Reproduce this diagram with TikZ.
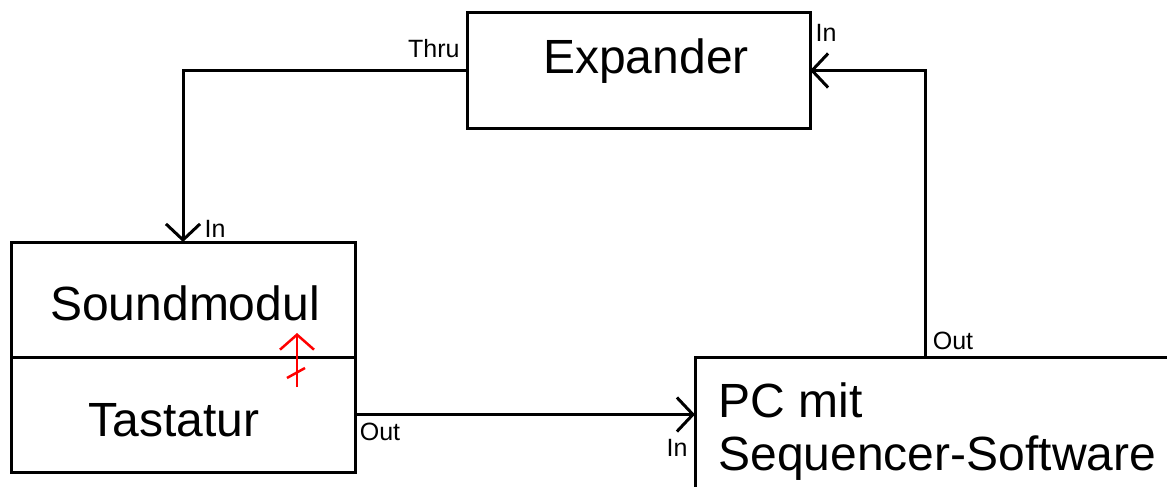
\documentclass[tikz,border=0pt]{standalone}
\usepackage{fontspec}
\setmainfont{Liberation Sans}
\usetikzlibrary{arrows.meta}

\begin{document}
\begin{tikzpicture}[x=1pt,y=-1pt,line width=3pt,
    box/.style={draw, outer sep=0pt, inner sep=0pt, anchor=north west},
    midi/.style={-{Straight Barb[length=16pt,width=34pt]}},
    big/.style={font=\fontsize{48}{53}\selectfont, inner sep=0pt},
    port/.style={font=\fontsize{25}{28}\selectfont, inner sep=0pt}]
    \useasboundingbox (0,0) rectangle (1167,487);
    \clip (0,0) rectangle (1167,487);
    % boxes
    \node[box, minimum width=343pt, minimum height=115pt] (exp) at (467,13) {};
    \node[box, minimum width=344pt, minimum height=115pt] (snd) at (11,242) {};
    \node[box, minimum width=344pt, minimum height=115pt] (tast) at (11,357) {};
    \node[box, minimum width=520pt, minimum height=160pt] (pc) at (695,357) {};
    \node[big, anchor=base] (exptxt) at (646,74) {Expander};
    \node[big, anchor=base] (sndtxt) at (185,320) {Soundmodul};
    \node[big, anchor=base] (tasttxt) at (174,436) {Tastatur};
    \node[big, anchor=base west] (pctxt) at (717,417) {PC mit};
    \node[big, anchor=base west] (pctxtb) at (717,470) {Sequencer-Software};
    \coordinate (pcout) at (925,357);
    % connections
    \draw[midi] (exp.west) -| (snd.north);
    \draw[midi] (pcout) |- (exp.east);
    \draw[midi] (tast.east) -- (tast.east -| pc.west);
    % port labels
    \node[port, anchor=east] (thru) at (461,49) {Thru};
    \node[port] (sndin) at (215,229) {In};
    \node[port] (expin) at (826,33) {In};
    \node[port] (pcoutl) at (953,341) {Out};
    \node[port] (tastout) at (380,432) {Out};
    \node[port] (pcin) at (677,448) {In};
    % local off
    \draw[red, line width=2.5pt, -{Straight Barb[length=15pt,width=34pt]}] (297,387) -- (297,333);
    \draw[red, line width=2.5pt] (287,378) -- (305,368);
\end{tikzpicture}
\end{document}
